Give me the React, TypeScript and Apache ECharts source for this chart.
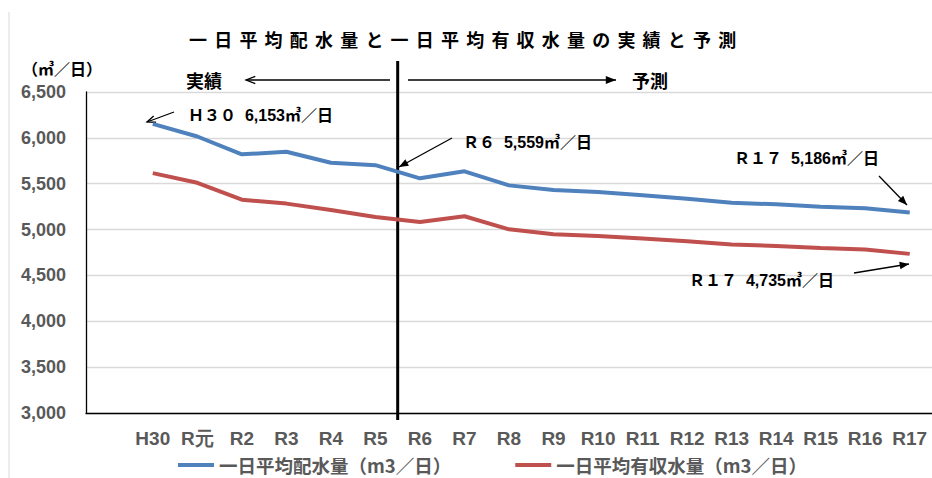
import React, { useEffect, useRef } from "react";
import * as echarts from "echarts";

const categories = ["H30", "R元", "R2", "R3", "R4", "R5", "R6", "R7", "R8", "R9", "R10", "R11", "R12", "R13", "R14", "R15", "R16", "R17"];
const haisuiValues = [6153, 6015, 5820, 5848, 5728, 5702, 5559, 5635, 5482, 5431, 5409, 5373, 5337, 5293, 5275, 5250, 5232, 5186];
const yushuValues = [5615, 5510, 5326, 5283, 5213, 5137, 5083, 5145, 5003, 4949, 4930, 4902, 4873, 4836, 4822, 4800, 4783, 4735];
const seriesNames = ["一日平均配水量（m3／日）", "一日平均有収水量（m3／日）"];
const titleText = "一日平均配水量と一日平均有収水量の実績と予測";
const yMin = 3000;
const yMax = 6500;
const yStep = 500;

const CJK = '"Noto Sans CJK JP", sans-serif';
const MIX = '"Liberation Sans", "Noto Sans CJK JP", sans-serif';

function arrow(x1: number, y1: number, x2: number, y2: number, filled: boolean, head = 9) {
  const a = Math.atan2(y2 - y1, x2 - x1);
  const s = 0.38;
  const p1 = [x2 - head * Math.cos(a - s), y2 - head * Math.sin(a - s)];
  const p2 = [x2 - head * Math.cos(a + s), y2 - head * Math.sin(a + s)];
  const items: any[] = [
    { type: "line", shape: { x1, y1, x2, y2 }, style: { stroke: "#000", lineWidth: 1.3 } },
  ];
  if (filled) {
    items.push({ type: "polygon", shape: { points: [p1, [x2, y2], p2] }, style: { fill: "#000" } });
  } else {
    items.push({ type: "polyline", shape: { points: [p1, [x2, y2], p2] }, style: { stroke: "#000", lineWidth: 1.3, fill: null } });
  }
  return items;
}

function label(text: string, x: number, y: number, size: number, font = MIX, align = "left") {
  return {
    type: "text",
    x,
    y,
    style: { text, fill: "#000", fontSize: size, fontWeight: "bold", fontFamily: font, textAlign: align, textVerticalAlign: "middle" },
  };
}

export default function App() {
  const ref = useRef<HTMLDivElement>(null);
  useEffect(() => {
    if (!ref.current) return;
    const chart = echarts.init(ref.current, undefined, { renderer: "svg" });
    const cats = ["", ...categories];
    chart.setOption({
      animation: false,
      backgroundColor: "#fff",
      grid: { left: 86, top: 92, height: 321, width: 848, containLabel: false },
      xAxis: {
        type: "category",
        data: cats,
        boundaryGap: true,
        axisLine: { show: true, lineStyle: { color: "#000", width: 1.3 } },
        axisTick: { show: false },
        axisLabel: { interval: 0, color: "#595959", fontSize: 19, fontWeight: "bold", fontFamily: "Liberation Sans", margin: 16 },
      },
      yAxis: {
        type: "value",
        min: yMin,
        max: yMax,
        interval: yStep,
        axisLine: { show: true, lineStyle: { color: "#000", width: 1.3 } },
        axisTick: { show: false },
        splitLine: { lineStyle: { color: "#d9d9d9", width: 1.3 } },
        axisLabel: {
          color: "#595959",
          fontSize: 18,
          fontWeight: "bold",
          fontFamily: "Liberation Sans",
          margin: 20,
          formatter: (v: number) => v.toLocaleString("en-US"),
        },
      },
      legend: {
        left: 173,
        top: 452,
        padding: [3, 5, 3, 5],
        icon: "rect",
        itemWidth: 36,
        itemHeight: 4,
        itemGap: 64,
        textStyle: { color: "#595959", fontSize: 18.5, lineHeight: 20, fontWeight: "bold", fontFamily: CJK },
        data: seriesNames,
      },
      series: [
        {
          name: seriesNames[0],
          type: "line",
          data: [null, ...haisuiValues],
          symbol: "none",
          lineStyle: { color: "#4F81BD", width: 4 },
          itemStyle: { color: "#4F81BD" },
        },
        {
          name: seriesNames[1],
          type: "line",
          data: [null, ...yushuValues],
          symbol: "none",
          lineStyle: { color: "#C0504D", width: 4 },
          itemStyle: { color: "#C0504D" },
        },
      ],
    });

    const xa = chart.convertToPixel({ xAxisIndex: 0 }, 6) as number;
    const xb = chart.convertToPixel({ xAxisIndex: 0 }, 7) as number;
    const divX = (xa + xb) / 2;

    const titleChars = Array.from(titleText).map((ch, i) => ({
      type: "text",
      x: 198 + i * 25.2,
      y: 39,
      style: { text: ch, fill: "#000", fontSize: 18, fontWeight: "bold", fontFamily: CJK, textAlign: "center", textVerticalAlign: "middle" },
    }));

    chart.setOption({
      graphic: [
        { type: "line", shape: { x1: 9, y1: 12, x2: 9, y2: 478 }, style: { stroke: "#d9d9d9", lineWidth: 1 } },
        ...titleChars,
        label("（㎥／日）", 62, 68, 16, CJK, "center"),
        { type: "line", shape: { x1: divX, y1: 61, x2: divX, y2: 420 }, style: { stroke: "#000", lineWidth: 3 } },
        label("実績", 186, 80, 18, CJK),
        ...arrow(390, 80, 246, 80, false, 10),
        ...arrow(408, 80, 616, 80, true, 11),
        label("予測", 632, 80, 18, CJK),
        label("Ｈ３０  6,153㎥／日", 188, 115, 16),
        ...arrow(174, 112, 147, 122, false, 9),
        label("Ｒ６  5,559㎥／日", 463, 142, 16),
        ...arrow(452, 138, 399, 167, true, 10),
        label("Ｒ１７  5,186㎥／日", 734, 158, 16),
        ...arrow(879, 176, 907, 205, true, 10),
        label("Ｒ１７  4,735㎥／日", 689, 280, 16),
        ...arrow(854, 273, 909, 264, true, 10),
      ],
    });

    return () => chart.dispose();
  }, []);
  return <div ref={ref} style={{ position: "absolute", left: 0, top: 0, width: 932, height: 478 }} />;
}
